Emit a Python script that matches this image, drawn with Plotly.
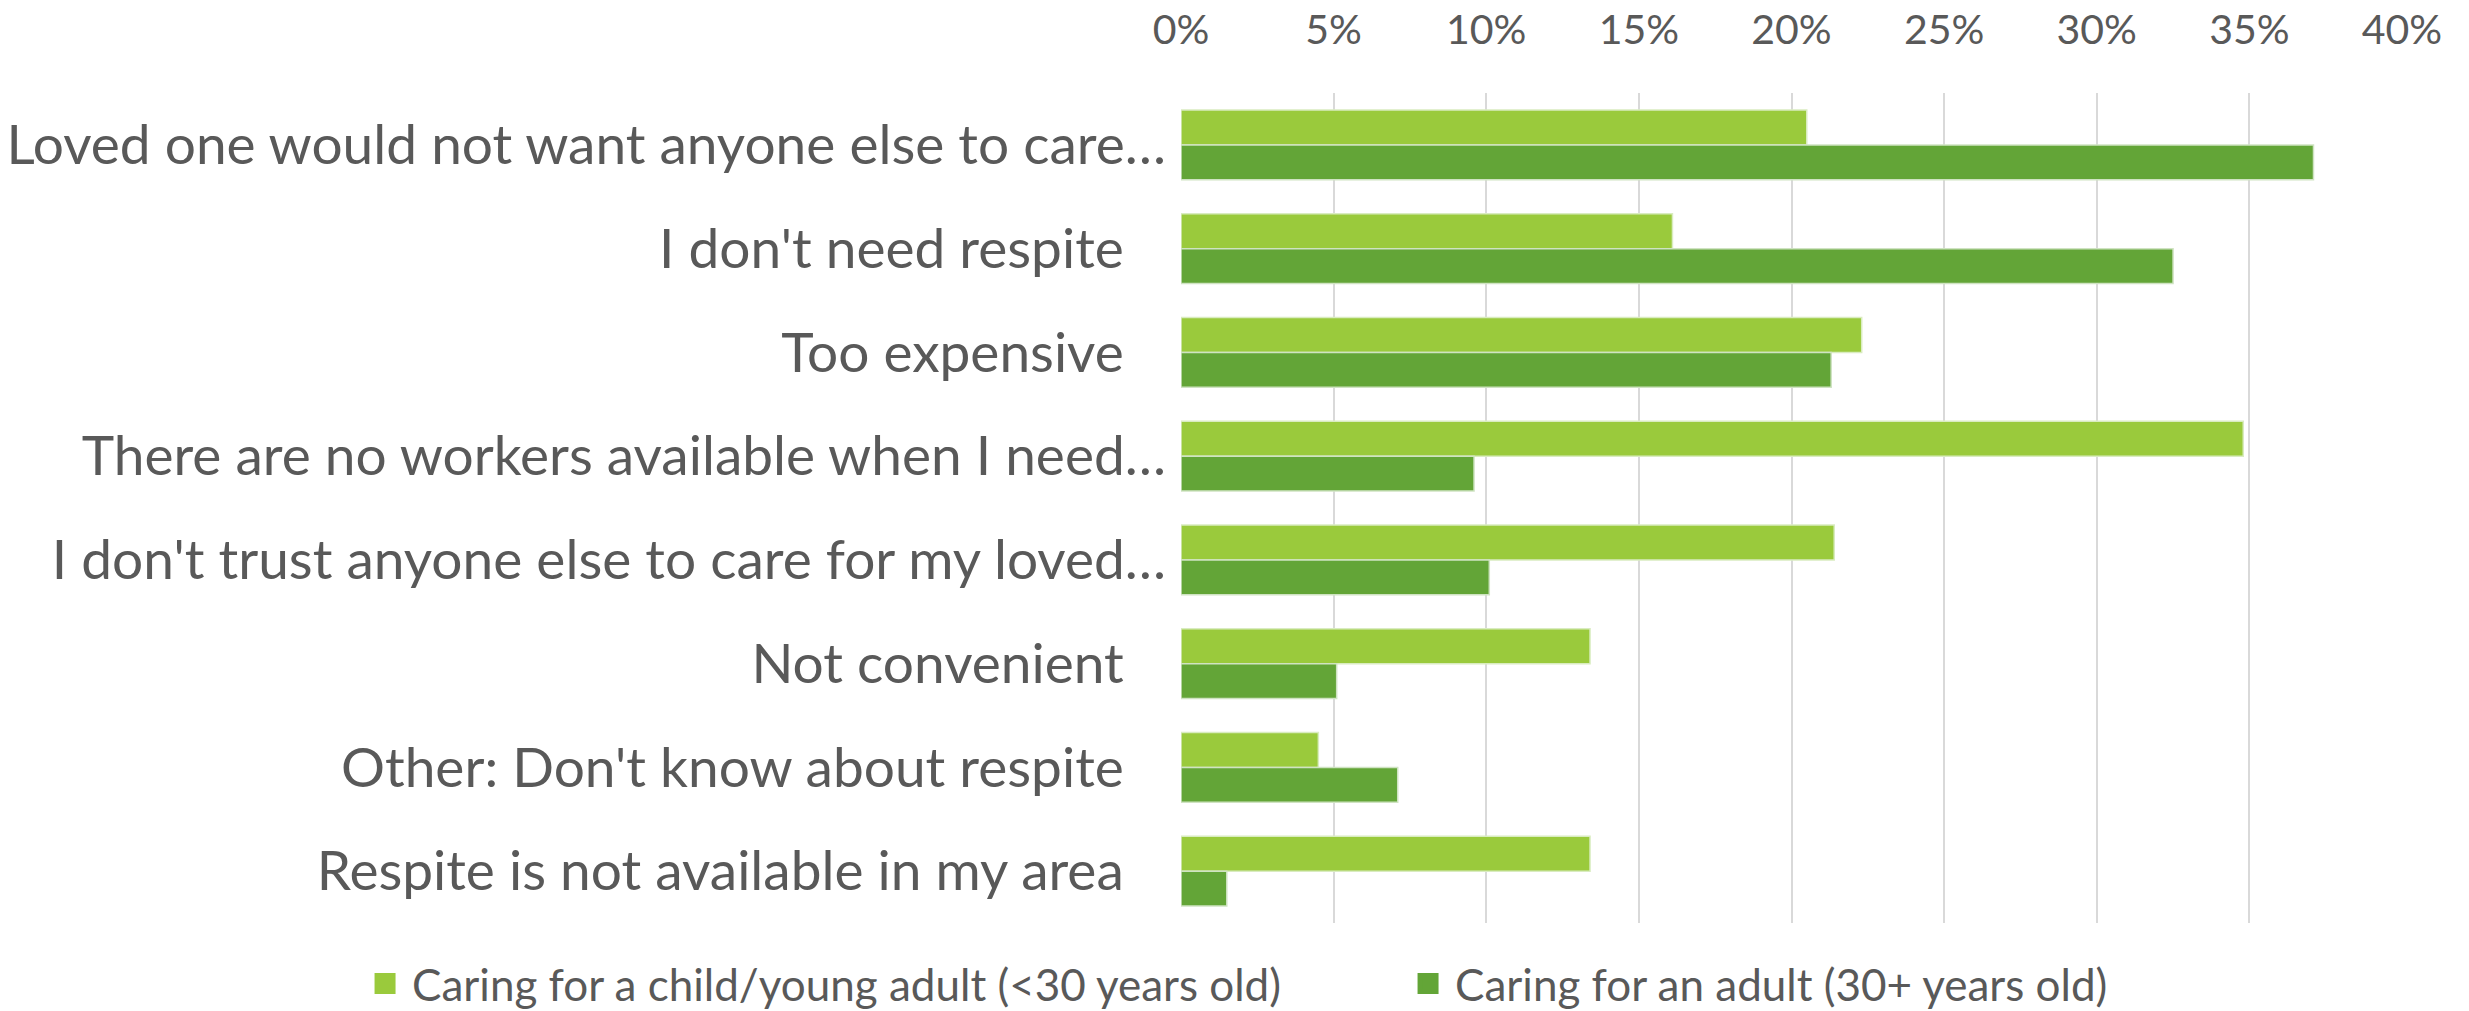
import plotly.graph_objects as go

# Reasons given for not using respite care, by carer group (share of respondents)
reasons = [
    "Loved one would not want anyone else to care…",
    "I don't need respite",
    "Too expensive",
    "There are no workers available when I need…",
    "I don't trust anyone else to care for my loved…",
    "Not convenient",
    "Other: Don't know about respite",
    "Respite is not available in my area",
]
child_young_adult = [20.5, 16.1, 22.3, 34.8, 21.4, 13.4, 4.5, 13.4]
adult_30_plus = [37.1, 32.5, 21.3, 9.6, 10.1, 5.1, 7.1, 1.5]

series_names = [
    "Caring for a child/young adult (<30 years old)",
    "Caring for an adult (30+ years old)",
]
x_ticks = [0, 5, 10, 15, 20, 25, 30, 35, 40]
x_tick_labels = [f"{v}%" for v in x_ticks]

TEXT = "#595959"
FONT = "Lato"
LIGHT = "#9ACA3C"
DARK = "#63A537"
colors = [LIGHT, DARK]

# Untruncated labels carry trailing padding so they sit slightly left of the axis
pad = "\u00a0" * 3
tick_text = [r if r.endswith("…") else r + pad for r in reasons]

fig = go.Figure()
for vals, name, col, edge in [
    (child_young_adult, series_names[0], LIGHT, "#d9ecc0"),
    (adult_30_plus, series_names[1], DARK, "#cfe3c2"),
]:
    fig.add_trace(go.Bar(
        y=reasons, x=vals, orientation="h", name=name, showlegend=False,
        marker=dict(color=col, line=dict(color=edge, width=1.5)),
    ))

# Legend keys: larger square swatches than the default bar symbol
for name, col in zip(series_names, colors):
    fig.add_trace(go.Scatter(
        x=[None], y=[None], mode="markers", name=name, showlegend=True,
        marker=dict(symbol="square", size=16, color=col,
                    line=dict(color=col, width=10)),
        hoverinfo="skip",
    ))

fig.update_layout(
    width=2469, height=1011,
    barmode="group", bargap=0.33, bargroupgap=0,
    paper_bgcolor="white", plot_bgcolor="white",
    margin=dict(l=1181, r=67, t=93, b=88, autoexpand=False),
    font=dict(family=FONT, color=TEXT),
    legend=dict(
        orientation="h", x=-0.674, xanchor="left",
        y=-0.0735, yanchor="middle",
        font=dict(family=FONT, size=44, color=TEXT),
        traceorder="normal", itemwidth=44,
        entrywidth=984, entrywidthmode="pixels",
        bgcolor="rgba(0,0,0,0)",
    ),
    showlegend=True,
)
fig.update_xaxes(
    side="top", range=[0, 40], tickvals=x_ticks, ticktext=x_tick_labels,
    showgrid=True, gridcolor="#d9d9d9", gridwidth=2, zeroline=False,
    showline=False, ticks="", tickfont=dict(family=FONT, size=41, color=TEXT),
    ticklabelstandoff=40, automargin=False,
)
fig.update_yaxes(
    autorange="reversed", tickvals=reasons, ticktext=tick_text,
    showgrid=False, zeroline=False, showline=False, ticks="",
    tickfont=dict(family=FONT, size=55, color=TEXT),
    ticklabelstandoff=14, automargin=False,
)

fig.write_html("out.html")
